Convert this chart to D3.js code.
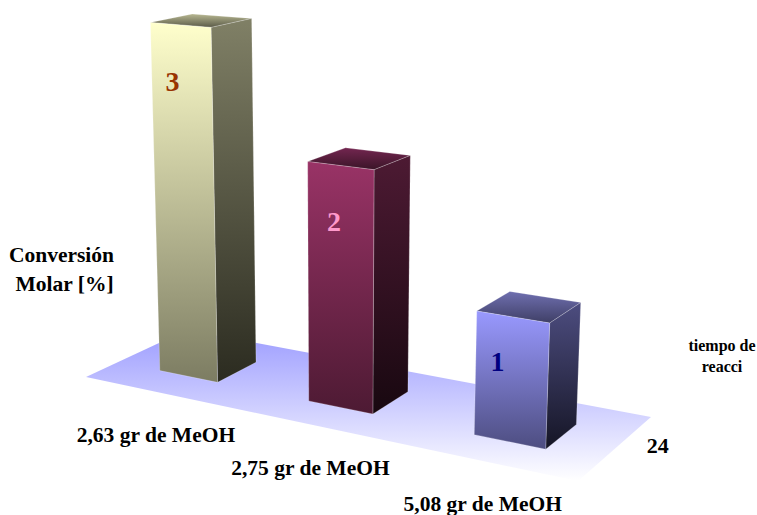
<!DOCTYPE html>
<html lang="es">
<head>
<meta charset="utf-8">
<title>Conversión molar</title>
<script src="https://cdn.jsdelivr.net/npm/d3@7/dist/d3.min.js"></script>
<style>
  html, body { margin: 0; padding: 0; background: #fff; }
  svg { display: block; }
  text { font-family: "Liberation Serif", "Times New Roman", serif; font-weight: bold; fill: #000; }
</style>
</head>
<body>
<script>
// Chart values
const categories = ["2,63 gr de MeOH", "2,75 gr de MeOH", "5,08 gr de MeOH"];
const values = [3, 2, 1];
const seriesNames = ["24"];
const valueTitle = ["Conversión", "Molar [%]"];
const seriesTitle = ["tiempo de", "reacci"];

// Colour ramps per bar: front, side and top faces, each [start, end]
const frontRamps = [["#ffffcc", "#7c7c62"], ["#993366", "#4d1a33"], ["#9999ff", "#4d4d80"]];
const sideRamps = [["#808066", "#2b2b20"], ["#4d1a33", "#180810"], ["#4d4d80", "#151525"]];
const topRamps = [["#b8b892", "#5a5a47"], ["#732650", "#3a1427"], ["#6f6fb0", "#3f3f66"]];
const labelColors = ["#993300", "#ff99cc", "#000080"];

const width = 757, height = 515;

// Position along the category axis and depth across the floor, both 0..1
const uScale = d3.scaleBand().domain(categories).range([0, 1]).paddingInner(0.6).paddingOuter(0.3);
const vScale = d3.scaleBand().domain(seriesNames).range([0, 1]).paddingInner(0).paddingOuter(0.75);

// Perspective camera: (u, v, value) to screen pixels
const cam = {
  a: 404.7, b: 116.6, p: -5.71, c: 86,
  d: 31.3, e: -19.25, q: -117.6, f: 377,
  g: -0.1512, h: 0.0841, r: -0.0168
};
function project(u, v, y = 0) {
  const w = cam.g * u + cam.h * v + cam.r * y + 1;
  return [
    (cam.a * u + cam.b * v + cam.p * y + cam.c) / w,
    (cam.d * u + cam.e * v + cam.q * y + cam.f) / w
  ];
}
const facePath = d3.line();

const svg = d3.select("body").append("svg").attr("width", width).attr("height", height);
const defs = svg.append("defs");

function ramp(id, stops, x2 = 0, y2 = 1) {
  const g = defs.append("linearGradient").attr("id", id)
    .attr("x1", 0).attr("y1", 0).attr("x2", x2).attr("y2", y2);
  g.append("stop").attr("offset", 0).attr("stop-color", stops[0]);
  g.append("stop").attr("offset", 1).attr("stop-color", stops[1]);
}
ramp("floor-fill", ["#9c9cff", "#ffffff"]);

// Floor
svg.append("path")
  .attr("d", facePath([project(0, 0), project(1, 0), project(1, 1), project(0, 1)]) + "Z")
  .attr("fill", "url(#floor-fill)");

// Where each value sits across its front face, and how far below the top edge
const labelAlong = [0.37, 0.40, 0.29];
const labelDrop = [67, 66, 57];

// Bars: three visible faces each
categories.forEach((cat, i) => {
  ramp(`front-${i}`, frontRamps[i]);
  ramp(`side-${i}`, sideRamps[i]);
  ramp(`top-${i}`, topRamps[i]);

  const u0 = uScale(cat), u1 = u0 + uScale.bandwidth();
  const v0 = vScale(seriesNames[0]), v1 = v0 + vScale.bandwidth();
  const val = values[i];

  const g = svg.append("g").attr("class", "bar");
  const faces = [
    { name: "top", pts: [project(u0, v0, val), project(u1, v0, val), project(u1, v1, val), project(u0, v1, val)] },
    { name: "side", pts: [project(u1, v0, val), project(u1, v1, val), project(u1, v1), project(u1, v0)] },
    { name: "front", pts: [project(u0, v0, val), project(u1, v0, val), project(u1, v0), project(u0, v0)] }
  ];
  g.selectAll("path").data(faces).join("path")
    .attr("d", d => facePath(d.pts) + "Z")
    .attr("fill", d => `url(#${d.name}-${i})`)
    .attr("stroke", "#ffffff")
    .attr("stroke-opacity", 0.28)
    .attr("stroke-width", 0.8)
    .attr("stroke-linejoin", "round");

  // Value printed on the front face, just under its top edge
  const [lx, ly] = project(u0 + uScale.bandwidth() * labelAlong[i], v0, val);
  g.append("text")
    .attr("x", lx)
    .attr("y", ly + labelDrop[i])
    .attr("text-anchor", "middle")
    .attr("font-size", 28)
    .style("fill", labelColors[i])
    .text(val);

  // Category label below the front floor edge
  const [cx, cy] = project(u0 + uScale.bandwidth() / 2, 0);
  svg.append("text")
    .attr("x", cx - 1.5)
    .attr("y", cy + 50)
    .attr("text-anchor", "middle")
    .attr("font-size", 21.5)
    .text(cat);
});

// Series label at the right of the floor
const [sx, sy] = project(1, 0.5);
svg.append("text")
  .attr("x", sx + 41.5)
  .attr("y", sy + 5.5)
  .attr("text-anchor", "middle")
  .attr("font-size", 22)
  .text(seriesNames[0]);

// Axis titles
svg.append("g").selectAll("text").data(valueTitle).join("text")
  .attr("x", (d, i) => 61.5 + i * 3)
  .attr("y", (d, i) => 262 + i * 28.5)
  .attr("text-anchor", "middle")
  .attr("font-size", 21.5)
  .text(d => d);

svg.append("g").selectAll("text").data(seriesTitle).join("text")
  .attr("x", 722)
  .attr("y", (d, i) => 351 + i * 21)
  .attr("text-anchor", "middle")
  .attr("font-size", 16)
  .text(d => d);
</script>
</body>
</html>
